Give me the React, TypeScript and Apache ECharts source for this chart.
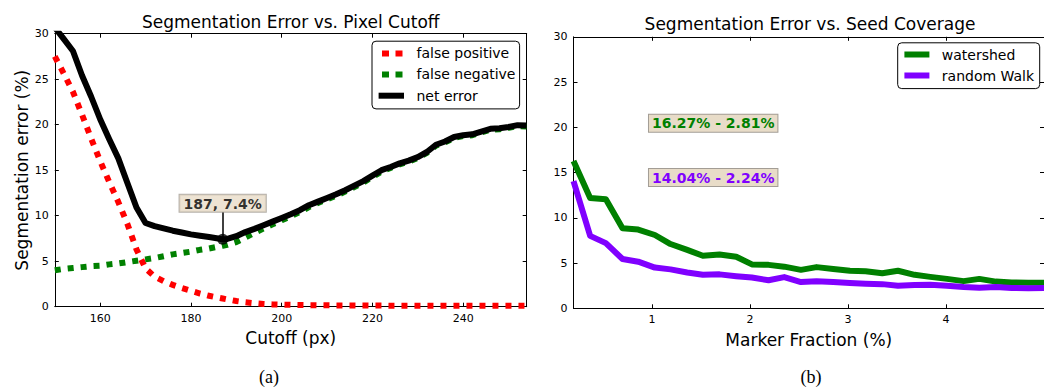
import { useEffect, useRef } from "react";
import * as echarts from "echarts";

// ---- Panel (a): segmentation error vs. pixel cutoff ----
const cutoff = [
  150, 152, 154, 156, 158, 160, 162, 164, 166, 168, 170, 172, 174, 176, 178, 180, 182, 184, 186, 187,
  188, 190, 192, 194, 196, 198, 200, 202, 204, 206, 208, 210, 212, 214, 216, 218, 220, 222, 224, 226,
  228, 230, 232, 234, 236, 238, 240, 242, 244, 246, 248, 250, 252, 254,
];
const falsePositive = [
  27.5, 25.6, 23.6, 21.1, 18.5, 16.0, 13.7, 11.5, 9.1, 6.3, 4.2, 3.3, 2.8, 2.4, 2.05, 1.75, 1.45, 1.2, 1.0, 0.9,
  0.8, 0.62, 0.48, 0.38, 0.3, 0.25, 0.22, 0.2, 0.18, 0.17, 0.16, 0.15, 0.14, 0.14, 0.13, 0.13, 0.12, 0.12, 0.11, 0.11,
  0.11, 0.1, 0.1, 0.1, 0.1, 0.1, 0.1, 0.1, 0.1, 0.1, 0.1, 0.1, 0.1, 0.1,
];
const falseNegative = [
  4.0, 4.15, 4.25, 4.35, 4.45, 4.5, 4.65, 4.75, 4.9, 5.05, 5.2, 5.35, 5.55, 5.75, 5.9, 6.05, 6.25, 6.4, 6.6, 6.7,
  6.8, 7.1, 7.6, 8.1, 8.6, 9.05, 9.5, 9.95, 10.4, 10.95, 11.4, 11.8, 12.2, 12.65, 13.15, 13.65, 14.25, 14.85, 15.25, 15.65,
  15.95, 16.35, 16.9, 17.7, 18.05, 18.55, 18.75, 18.85, 19.15, 19.45, 19.5, 19.65, 19.85, 19.8,
];
const netError = [
  30.7, 29.4, 28.1, 25.4, 23.1, 20.6, 18.4, 16.3, 13.6, 10.9, 9.2, 8.85, 8.6, 8.35, 8.15, 7.95, 7.8, 7.65, 7.5, 7.4,
  7.45, 7.75, 8.2, 8.55, 8.95, 9.35, 9.75, 10.15, 10.6, 11.15, 11.55, 11.95, 12.35, 12.8, 13.3, 13.8, 14.4, 15.0, 15.35, 15.75,
  16.05, 16.45, 17.0, 17.8, 18.15, 18.65, 18.85, 18.95, 19.25, 19.55, 19.6, 19.75, 19.95, 19.9,
];
const cutoffTicks = [160, 180, 200, 220, 240];
const bestCutoff: [number, number] = [187, 7.4];
const bestArrowTop = 10.4;

// ---- Panel (b): segmentation error vs. seed coverage ----
const markerFraction = [
  0.2, 0.37, 0.53, 0.7, 0.86, 1.03, 1.19, 1.36, 1.52, 1.69, 1.86, 2.02, 2.19, 2.35, 2.52,
  2.68, 2.85, 3.02, 3.18, 3.35, 3.51, 3.68, 3.84, 4.01, 4.18, 4.34, 4.51, 4.67, 4.84, 5.0,
];
const watershed = [
  16.27, 12.2, 12.05, 8.85, 8.7, 8.1, 7.1, 6.45, 5.8, 5.95, 5.7, 4.85, 4.8, 4.6, 4.25,
  4.55, 4.35, 4.15, 4.1, 3.87, 4.15, 3.7, 3.47, 3.25, 3.0, 3.25, 2.95, 2.85, 2.82, 2.81,
];
const randomWalk = [
  14.04, 8.0, 7.2, 5.45, 5.15, 4.5, 4.3, 3.95, 3.7, 3.75, 3.55, 3.4, 3.1, 3.45, 2.9,
  3.0, 2.9, 2.8, 2.72, 2.67, 2.5, 2.58, 2.6, 2.5, 2.35, 2.28, 2.35, 2.25, 2.22, 2.24,
];
const fractionTicks = [1, 2, 3, 4];
const errorTicks = [0, 5, 10, 15, 20, 25, 30];

const FONT = "DejaVu Sans";
const RED = "#ff0000";
const GREEN = "#008000";
const PURPLE = "#8000ff";
const NOTE_BG = "#e8dcc8";
const NOTE_BORDER = "#a39d95";

const zip = (xs: number[], ys: number[]) => xs.map((x, i) => [x, ys[i]]);

const tickStyle = { inside: true, length: 4, lineStyle: { color: "#000", width: 1 } };
const lineStyleAxis = { show: true, onZero: false, lineStyle: { color: "#000", width: 1 } };
const labelStyle = { fontFamily: FONT, fontSize: 11, color: "#000" };
const nameStyle = { fontFamily: FONT, fontSize: 17, color: "#000" };

function xPair(grid: number, min: number, max: number, ticks: number[], name: string) {
  return [
    {
      type: "value", gridIndex: grid, min, max, position: "bottom",
      name, nameLocation: "middle", nameGap: 23, nameTextStyle: nameStyle,
      axisLine: lineStyleAxis,
      axisTick: { ...tickStyle, customValues: ticks },
      axisLabel: { ...labelStyle, margin: 6, customValues: ticks },
      splitLine: { show: false },
    },
    {
      type: "value", gridIndex: grid, min, max, position: "top",
      axisLine: lineStyleAxis,
      axisTick: { ...tickStyle, customValues: ticks },
      axisLabel: { show: false },
      splitLine: { show: false },
    },
  ];
}

function yPair(grid: number, name: string) {
  return [
    {
      type: "value", gridIndex: grid, min: 0, max: 30, interval: 5, position: "left",
      name, nameLocation: "middle", nameRotate: 90, nameGap: 22, nameTextStyle: nameStyle,
      axisLine: lineStyleAxis,
      axisTick: { ...tickStyle, customValues: errorTicks },
      axisLabel: { ...labelStyle, margin: 6 },
      splitLine: { show: false },
    },
    {
      type: "value", gridIndex: grid, min: 0, max: 30, interval: 5, position: "right",
      axisLine: lineStyleAxis,
      axisTick: { ...tickStyle, customValues: errorTicks },
      axisLabel: { show: false },
      splitLine: { show: false },
    },
  ];
}

function legendBox(
  x: number, y: number, w: number, h: number,
  items: { label: string; color: string; dash?: number[]; y: number; x1: number; x2: number }[],
  textX: number,
) {
  const children: any[] = [
    { type: "rect", shape: { x, y, width: w, height: h, r: 4 }, style: { fill: "#fff", stroke: "#000", lineWidth: 1 } },
  ];
  items.forEach((it) => {
    children.push({
      type: "line",
      shape: { x1: it.x1, y1: it.y, x2: it.x2, y2: it.y },
      style: { stroke: it.color, lineWidth: 6, lineDash: it.dash || null, lineCap: "butt" },
    });
    children.push({
      type: "text", x: textX, y: it.y,
      style: { text: it.label, fontFamily: FONT, fontSize: 14, fill: "#000", verticalAlign: "middle", align: "left" },
    });
  });
  return { type: "group", children };
}

function note(text: string, color: string, x: number, y: number) {
  return {
    type: "text", x, y,
    style: {
      text, fontFamily: FONT, fontSize: 14, fontWeight: "bold", fill: color,
      align: "center", verticalAlign: "middle",
      backgroundColor: NOTE_BG, borderColor: NOTE_BORDER, borderWidth: 1, padding: [2, 3, 1, 3],
    },
  };
}

export default function App() {
  const ref = useRef<HTMLDivElement>(null);

  useEffect(() => {
    if (!ref.current) return;
    const chart = echarts.init(ref.current, undefined, { renderer: "svg" });
    const last = watershed.length - 1;

    chart.setOption({
      animation: false,
      grid: [
        { left: 54.8, top: 33.7, width: 471.9, height: 273 },
        { left: 573.5, top: 36.8, width: 472.8, height: 271.5 },
      ],
      xAxis: [
        ...xPair(0, 150, 254, cutoffTicks, "Cutoff (px)"),
        ...xPair(1, 0.2, 5, fractionTicks, "Marker Fraction (%)"),
      ],
      yAxis: [
        ...yPair(0, "Segmentation error (%)"),
        ...yPair(1, ""),
      ],
      series: [
        {
          name: "false positive", type: "line", xAxisIndex: 0, yAxisIndex: 0,
          data: zip(cutoff, falsePositive), symbol: "none",
          lineStyle: { color: RED, width: 6, type: [6, 7], cap: "butt" },
        },
        {
          name: "false negative", type: "line", xAxisIndex: 0, yAxisIndex: 0,
          data: zip(cutoff, falseNegative), symbol: "none",
          lineStyle: { color: GREEN, width: 6, type: [6, 7], cap: "butt" },
        },
        {
          name: "net error", type: "line", xAxisIndex: 0, yAxisIndex: 0,
          data: zip(cutoff, netError), symbol: "none",
          lineStyle: { color: "#000", width: 6, join: "round" },
        },
        {
          name: "best cutoff", type: "scatter", xAxisIndex: 0, yAxisIndex: 0, z: 5,
          data: [bestCutoff], symbol: "circle", symbolSize: 11,
          itemStyle: { color: "#000" },
          label: {
            show: true, position: "top", distance: 22,
            formatter: (p: any) => `${p.value[0]}, ${p.value[1]}%`,
            fontFamily: FONT, fontSize: 14, fontWeight: "bold", color: "#000",
            backgroundColor: NOTE_BG, borderColor: NOTE_BORDER, borderWidth: 1, padding: [2, 4, 1, 4],
          },
          markLine: {
            silent: true, symbol: ["none", "none"], label: { show: false },
            lineStyle: { color: "#000", width: 1.5, type: "solid" },
            data: [[{ coord: bestCutoff }, { coord: [bestCutoff[0], bestArrowTop] }]],
          },
        },
        {
          name: "watershed", type: "line", xAxisIndex: 2, yAxisIndex: 2,
          data: zip(markerFraction, watershed), symbol: "none",
          lineStyle: { color: GREEN, width: 6, join: "round" },
        },
        {
          name: "random Walk", type: "line", xAxisIndex: 2, yAxisIndex: 2,
          data: zip(markerFraction, randomWalk), symbol: "none",
          lineStyle: { color: PURPLE, width: 6, join: "round" },
        },
      ],
      graphic: [
        {
          type: "text", x: 290.7, y: 22,
          style: { text: "Segmentation Error vs. Pixel Cutoff", fontFamily: FONT, fontSize: 17, fill: "#000", align: "center", verticalAlign: "middle" },
        },
        {
          type: "text", x: 810, y: 24,
          style: { text: "Segmentation Error vs. Seed Coverage", fontFamily: FONT, fontSize: 17, fill: "#000", align: "center", verticalAlign: "middle" },
        },
        {
          type: "text", x: 269, y: 377,
          style: { text: "(a)", fontFamily: "Liberation Serif", fontSize: 18, fill: "#000", align: "center", verticalAlign: "middle" },
        },
        {
          type: "text", x: 811, y: 377,
          style: { text: "(b)", fontFamily: "Liberation Serif", fontSize: 18, fill: "#000", align: "center", verticalAlign: "middle" },
        },
        legendBox(372, 41.2, 147.6, 67.7, [
          { label: "false positive", color: RED, dash: [7, 6.5], y: 53.4, x1: 382, x2: 402.5 },
          { label: "false negative", color: GREEN, dash: [7, 6.5], y: 74.4, x1: 382, x2: 402.5 },
          { label: "net error", color: "#000", y: 95.7, x1: 378.6, x2: 404 },
        ], 416.5),
        legendBox(897.7, 42.8, 142, 45.8, [
          { label: "watershed", color: GREEN, y: 54.5, x1: 904.4, x2: 929.4 },
          { label: "random Walk", color: PURPLE, y: 75.5, x1: 904.4, x2: 929.4 },
        ], 941.8),
        note(`${watershed[0].toFixed(2)}% - ${watershed[last].toFixed(2)}%`, GREEN, 713.2, 123.2),
        note(`${randomWalk[0].toFixed(2)}% - ${randomWalk[last].toFixed(2)}%`, PURPLE, 713.2, 177.5),
      ],
    });

    return () => chart.dispose();
  }, []);

  return (
    <div
      ref={ref}
      style={{ position: "fixed", left: 0, top: 0, width: 1044, height: 389, background: "#fff", overflow: "hidden" }}
    />
  );
}
